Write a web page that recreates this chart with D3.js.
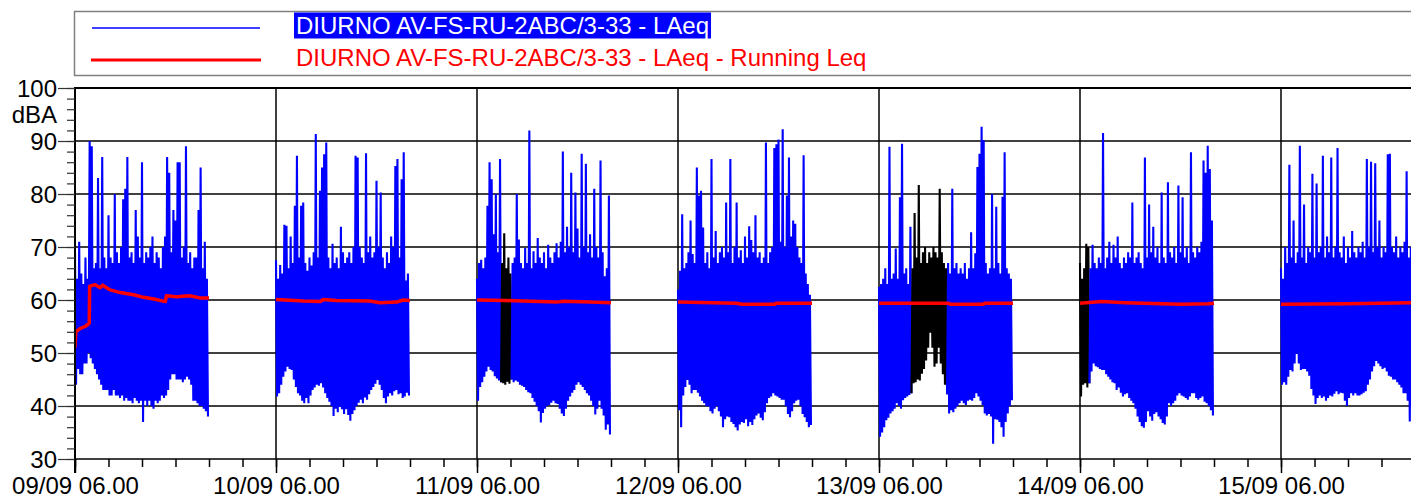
<!DOCTYPE html>
<html>
<head>
<meta charset="utf-8">
<script src="https://cdn.jsdelivr.net/npm/d3@7"></script>
<style>
  body { margin: 0; background: #fff; }
  svg { display: block; }
  text { font-family: "Liberation Sans", Arial, sans-serif; }
</style>
</head>
<body>
<svg id="chart" width="1411" height="499"></svg>
<script>
// ---- Measurement data: LAeq per 15-minute bin (max / min within the bin), 06:00 onwards ----
const dayLabels = ["09/09", "10/09", "11/09", "12/09", "13/09", "14/09", "15/09"];

const hi_0909 = [69,64,71,65,63,68,64,90,89,66, 67,83,66,87,68,66,76,68,67,80, 69,67,70,79,81,87,68,69,67,77, 72,68,86,67,69,68,70,72,67,69, 68,66,70,72,87,84,69,77,75,86, 86,68,70,89,67,69,66,68,68,77, 85,66,71,64];
const lo_0909 = [44,47,46,46,48,48,50,49,48,47, 46,45,44,43,43,43,42,42,43,42, 42,41.5,42,41,41.5,41,41,40.5,41.5,41, 40.5,41,37,41,40,41,40,39.5,41,40.5, 41,42,41.5,42,43,45,46,46,45,45, 45,44.5,45,45.5,45,44,41,41,40.5,40, 40,39.5,39,38];

const hi_1009 = [67.5,64,66.6,65,74.2,74,66,72,67,77.8, 87.2,68,77.8,78.4,67,65.5,68,66.5,69,91.3, 68,80.6,85,87.5,89.7,68,66,70.6,67,68, 66,73.8,69,67,68,69,67,70,87.2,86.9, 70,68,67,87.7,69,72,68,69,82.5,70, 80.3,68,66,69,67,72,70,85.3,86.6,68, 82.8,87.9,63.7,65];
const lo_1009 = [41.8,42.4,44,45.5,46.5,47.4,47,46.8,45,43.6, 42.4,42,41,40.5,41.5,40.5,42,43,43.5,44, 43.8,44.3,43.5,42.4,41.5,40.8,40,38.1,39.5,38.8, 39.8,39.4,38.5,39.4,38.3,37.2,38.5,39.2,40,40.6, 41.2,40.5,41.6,41.2,42.2,43,43.6,44.2,44.9,44, 43,41.5,40.5,41.8,42.4,42,42.8,43,42.2,42.4, 41.5,41.8,42.5,42];

const hi_1109 = [64,67,67.6,66,68,77.8,86,82.8,72.4,80, 69,86.6,67,72.6,66,68,65,67,68,80, 71.4,67,66,69.8,67,92,66,69.2,67,71.7, 68,67,69,66,70.4,68,67,69,70.7,68, 71,88,69,73.8,70,84,69,80.3,73.5,68, 87.6,70,85.7,69,72.4,68,81,70,68,86.3, 69,64.5,66,79.7];
const lo_1109 = [41,43.6,44.5,45.5,46.5,47.4,46.8,46.5,45.6,45.2, 44.8,44.5,44.3,44,44.6,44.2,45,44.5,44.8,44.6, 44,43.8,43.6,43,42.6,42.4,41.5,40.8,40,39, 36.9,38.7,39.5,40,40.2,40.6,41,40.5,40.4,39.5, 38.6,38.1,39.5,41,41.8,42.5,43,44,44.5,44, 43.6,43,42.4,42,41,40,38.4,39.5,41,39.5, 38.2,35.5,36.5,34.6];

const hi_1209 = [62,65.5,76.2,66,67,69,75,68.7,67,85, 79.7,80.6,73.7,67,69,66,86.6,68,73,67, 69,70,68,78.4,69,86.6,67,70,78.4,68, 69.4,67,72,68,73.9,71.3,69,76,68,69, 67,68,89.7,67,69,70,88.7,89.4,90.3,71, 92.2,70,79.7,86.9,72,75,74.4,70,68,67, 87.3,65,63,61];
const lo_1209 = [39.2,36,42,43.6,44.9,44,42.4,43,43,42.5, 41.8,41,40.5,40,39.9,39,38.6,39.5,40,39, 38,36,37.5,38,37.9,37,36.6,36,35.4,36.5, 37,36.8,37.5,36.2,37,36.4,37.5,38.2,38.6,37.8, 37.3,38.8,40.5,41.5,41.8,42.4,42,41.8,41.5,41.2, 41.2,40,38.5,37.9,39,40.5,41,41.2,40,38.5, 37.9,37,36,36.4];

const hi_1309 = [62.5,63,64,66,63,88.9,64,65,69.7,64, 79.4,89.5,65,66,63,73.8,66,76.4,68,81.7, 67,69,70,67,69,68,70,69,68,81, 69,67,66,67,65,81,66,67,65,66, 65,67,64,66,72.8,66,68.8,85.1,87.6,92.7, 90.2,67,65,66,80,66,77.6,67,65,79.5, 87.9,66,65,64];
const lo_1309 = [34.2,35,36,37.3,37.8,38.6,39,39.5,40.5,40, 39.5,41.1,41.5,41.8,42.1,42.4,44.3,44.5,45,44.8, 46.1,47,48.6,51,53.8,51,47.4,48,51,48, 46,44,42.2,38.6,39.2,38.8,39.5,40,40.5,41, 40.5,40.2,41,41.2,41,41.5,42.4,41.8,41,40.2, 38.6,38.2,38.5,38,32.9,37.5,37.4,37,36,34.2, 37,38.6,40,41.1];

const hi_1409 = [67,64,66,70.6,70,66,70.4,67,66,68, 67,91.5,66,68,71,67,70.4,68,72,67, 66,68,67,69,68,78.4,67,68,69,67, 66,86.9,68,78,69,73.8,68,70,67,80.3, 68,67,82.2,69,68,70,67,81.6,69,79.4, 68,70,67,87.9,69,68,70,69,71,86.3, 84,89.1,84.7,75];
const lo_1409 = [41.8,44,44.3,43.5,44.3,46.5,48,47.5,47.3,47, 46.8,46.8,46,45.5,45,44.5,44.3,43,43.5,42.5, 41.8,42.2,42.4,41.5,41,40.5,39.5,38,37,36.2, 35.9,37,39,38,37.2,38.5,38.8,38,37.5,36.8, 36.5,38,40.5,40,40.5,41,42,42.4,42,41.8, 41.5,41.2,41.8,42.4,42.4,41.5,41.2,41.5,41.8,40.8, 40.5,40,39.2,38.2];

const hi_1509 = [66,64,70,67,85.5,68,75,67,69,89.1, 68,78,67,70,69,83.8,68,82,69,70, 87.2,68,72,69,86.9,68,70,88.7,69,68, 72,67,70,68,73,69,68,70,69,71, 68,86.6,70,86.1,69,85.8,70,75,68,70, 69,87.5,87.6,70,69,72,68,70,69,71, 84.3,68,70,67];
const lo_1509 = [44,44.5,44,45.5,46.8,46.5,48,49.8,48,46.8, 47,47,46.5,45.7,43.2,42,40.4,41.5,42,41.5, 41.8,41,41.5,42,41.8,42.3,42.8,42.2,42.5,42.4, 41,40,41.5,42.4,42,42.4,42,42,42.2,42.5, 42.8,44,45,46.5,47.5,48.5,48,47.5,47,47.2, 46.5,45.7,45.5,45,45,44.5,44,43.5,42.4,42.4, 41,37.1,40,41];

// Running Leq: [hours after 06:00, dBA]
const leq_0909 = [[0,51],[0.1,54],[0.6,54.6],[1.2,55],[1.7,55.6],[1.75,62.6],[2.4,62.9],[3.0,62.3],[3.3,62.8],[4.2,61.9],[5.4,61.4],[7.0,61.0],[8.2,60.5],[9.4,60.2],[10.8,59.7],[10.9,60.8],[12.1,60.6],[13.7,60.8],[14.9,60.4],[16,60.4]];
const leq_1009 = [[0,60.1],[3.3,59.8],[5.3,59.7],[5.6,60.1],[7.2,59.9],[11.2,59.8],[12.4,59.5],[14.4,59.6],[15.2,60.0],[16,59.9]];
const leq_1109 = [[0,60.0],[3.5,59.9],[5.5,59.8],[9.5,59.6],[10.3,59.75],[13.5,59.6],[16,59.5]];
const leq_1209 = [[0,59.6],[7.0,59.4],[7.6,59.2],[11.6,59.2],[11.7,59.4],[16,59.4]];
const leq_1309 = [[0,59.4],[8.3,59.4],[8.5,59.2],[12.5,59.2],[12.6,59.4],[16,59.4]];
const leq_1409 = [[0,59.4],[2.6,59.7],[5.4,59.5],[12,59.2],[15.3,59.3],[16,59.4]];
const leq_1509 = [[0,59.2],[8,59.3],[16,59.5]];

// Masked (excluded) periods drawn in black: [day index, start hour, end hour] after 06:00
const maskedSpans = [[2, 3.0, 4.25], [4, 4.0, 8.25], [5, 0, 1.25]];

const yTicks = [30, 40, 50, 60, 70, 80, 90, 100];
const legendLabels = ["DIURNO AV-FS-RU-2ABC/3-33 - LAeq", "DIURNO AV-FS-RU-2ABC/3-33 - LAeq - Running Leq"];

const hiDays = [hi_0909, hi_1009, hi_1109, hi_1209, hi_1309, hi_1409, hi_1509];
const loDays = [lo_0909, lo_1009, lo_1109, lo_1209, lo_1309, lo_1409, lo_1509];
const leqDays = [leq_0909, leq_1009, leq_1109, leq_1209, leq_1309, leq_1409, leq_1509];

// ---- Layout ----
const W = 1411, H = 499;
const plotLeft = 75, plotTop = 88, plotBottom = 459;
const dayPx = 201;
const BIN_MIN = 15;
const HOUR = 3600e3;

const t0 = new Date(2023, 8, 9, 6, 0);
const tEnd = new Date(2023, 8, 16, 6, 0);
const dayStart = i => new Date(+t0 + i * 24 * HOUR);

const x = d3.scaleTime().domain([t0, tEnd]).range([plotLeft, plotLeft + 7 * dayPx]);
const y = d3.scaleLinear().domain([30, 100]).range([plotBottom, plotTop]);

const svg = d3.select("#chart").attr("width", W).attr("height", H).style("overflow", "hidden");

svg.append("defs").append("clipPath").attr("id", "plotClip")
  .append("rect").attr("x", plotLeft).attr("y", plotTop - 2).attr("width", W - plotLeft).attr("height", plotBottom - plotTop + 4);

// ---- Grid ----
const grid = svg.append("g");
grid.selectAll("line.h").data(yTicks.filter(v => v > 30 && v < 100)).join("line")
  .attr("x1", plotLeft).attr("x2", W).attr("y1", d => y(d)).attr("y2", d => y(d))
  .attr("stroke", "#000").attr("stroke-width", 1.5);
grid.selectAll("line.v").data(d3.range(1, 7).map(dayStart)).join("line")
  .attr("x1", d => x(d)).attr("x2", d => x(d)).attr("y1", plotTop).attr("y2", plotBottom)
  .attr("stroke", "#000").attr("stroke-width", 1.5);

// ---- LAeq trace ----
const line = d3.line().x(d => x(d.t)).y(d => y(d.v));
const traceG = svg.append("g").attr("clip-path", "url(#plotClip)");

hiDays.forEach((hi, di) => {
  const lo = loDays[di];
  const start = +dayStart(di);
  const spans = maskedSpans.filter(s => s[0] === di);
  const pts = [];
  hi.forEach((h, i) => {
    const hr = i * BIN_MIN / 60;
    const black = spans.some(s => hr >= s[1] && hr < s[2]);
    const tb = start + i * BIN_MIN * 60e3;
    pts.push({ t: new Date(tb), v: h, black });
    pts.push({ t: new Date(tb + BIN_MIN * 30e3), v: lo[i], black });
  });
  // split into colour runs so that masked periods are drawn in black
  const runs = [];
  let cur = null;
  pts.forEach(p => {
    const col = p.black ? "#000000" : "#0000ff";
    if (!cur || cur.col !== col) {
      const prev = cur ? cur.pts[cur.pts.length - 1] : null;
      cur = { col, pts: prev ? [prev] : [] };
      runs.push(cur);
    }
    cur.pts.push(p);
  });
  runs.forEach(r => {
    traceG.append("path").attr("d", line(r.pts))
      .attr("fill", "none").attr("stroke", r.col).attr("stroke-width", 2.1)
      .attr("stroke-linejoin", "bevel");
  });
});

// ---- Running Leq ----
leqDays.forEach((pts, di) => {
  const start = +dayStart(di);
  traceG.append("path")
    .attr("d", line(pts.map(p => ({ t: new Date(start + p[0] * HOUR), v: p[1] }))))
    .attr("fill", "none").attr("stroke", "#ff0000").attr("stroke-width", 3.5)
    .attr("stroke-linejoin", "round");
});

// ---- Axes ----
// frame: top border, left axis, bottom axis
svg.append("line").attr("x1", plotLeft).attr("x2", W).attr("y1", plotTop).attr("y2", plotTop)
  .attr("stroke", "#000").attr("stroke-width", 2);
svg.append("line").attr("x1", plotLeft).attr("x2", W).attr("y1", plotBottom).attr("y2", plotBottom)
  .attr("stroke", "#000").attr("stroke-width", 1.5);
svg.append("line").attr("x1", plotLeft).attr("x2", plotLeft).attr("y1", plotTop - 1).attr("y2", plotBottom + 14)
  .attr("stroke", "#000").attr("stroke-width", 2);

const yMinor = svg.append("g").attr("transform", `translate(${plotLeft},0)`)
  .call(d3.axisLeft(y).tickValues(d3.range(30, 101, 2)).tickSize(8).tickFormat(""));
yMinor.select(".domain").remove();
yMinor.selectAll("line").attr("stroke", "#333").attr("stroke-width", 1.2);

const yMajor = svg.append("g").attr("transform", `translate(${plotLeft},0)`)
  .call(d3.axisLeft(y).tickValues(yTicks).tickSize(17).tickPadding(1).tickFormat(d3.format("d")));
yMajor.select(".domain").remove();
yMajor.selectAll("line").attr("stroke", "#333").attr("stroke-width", 1.2);
yMajor.selectAll("text").attr("font-size", 24).attr("fill", "#000")
  .attr("font-family", "'Liberation Sans', Arial, sans-serif").attr("dy", "0.35em");

svg.append("text").attr("x", 57).attr("y", 123).attr("text-anchor", "end")
  .attr("font-size", 24).attr("fill", "#000").text("dBA");

const minorTimes = d3.range(0, 7 * 6 + 1).map(k => new Date(+t0 + k * 4 * HOUR));
const xMinor = svg.append("g").attr("transform", `translate(0,${plotBottom})`)
  .call(d3.axisBottom(x).tickValues(minorTimes).tickSize(8).tickFormat(""));
xMinor.select(".domain").remove();
xMinor.selectAll("line").attr("stroke", "#000").attr("stroke-width", 1.5);

const xMajor = svg.append("g").attr("transform", `translate(0,${plotBottom})`)
  .call(d3.axisBottom(x).tickValues(d3.range(0, 7).map(dayStart)).tickSize(14).tickPadding(4)
    .tickFormat(d3.timeFormat("%d/%m %H.%M")));
xMajor.select(".domain").remove();
xMajor.selectAll("line").attr("stroke", "#000").attr("stroke-width", 1.5);
xMajor.selectAll("text").attr("font-size", 24).attr("fill", "#000")
  .attr("font-family", "'Liberation Sans', Arial, sans-serif");

// ---- Legend ----
const lg = svg.append("g");
lg.append("rect").attr("x", 74.5).attr("y", 11.5).attr("width", 1400).attr("height", 64)
  .attr("fill", "#fff").attr("stroke", "#808080").attr("stroke-width", 1.5);
lg.append("line").attr("x1", 92).attr("x2", 260).attr("y1", 28).attr("y2", 28)
  .attr("stroke", "#0000ff").attr("stroke-width", 1.5);
lg.append("line").attr("x1", 91).attr("x2", 261).attr("y1", 60).attr("y2", 60)
  .attr("stroke", "#ff0000").attr("stroke-width", 3);
const hl = lg.append("rect").attr("x", 294).attr("y", 12.5).attr("height", 26).attr("fill", "#0000ff");
const t1 = lg.append("text").attr("x", 296).attr("y", 34).attr("font-size", 24).attr("fill", "#fff")
  .text(legendLabels[0]);
hl.attr("width", t1.node().getComputedTextLength() + 4);
lg.append("text").attr("x", 296).attr("y", 66).attr("font-size", 24).attr("fill", "#ff0000")
  .text(legendLabels[1]);
</script>
</body>
</html>
